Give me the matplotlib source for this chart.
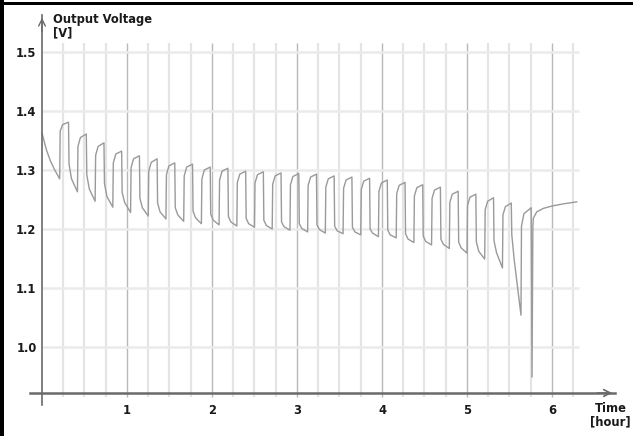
import matplotlib
matplotlib.use("Agg")
import matplotlib.pyplot as plt
import numpy as np
from matplotlib.patches import Rectangle

# ---- data (time in hours, voltage in V) ----
# initial discharge before the first rest
t_start = [0.0, 0.05, 0.10, 0.15]
v_start = [1.363, 1.335, 1.315, 1.300]

# start of each rest phase / start of each load phase
t_rest = [0.208, 0.417, 0.625, 0.833, 1.042, 1.250, 1.458, 1.667, 1.875,
          2.083, 2.292, 2.500, 2.708, 2.917, 3.125, 3.333, 3.542, 3.750,
          3.958, 4.167, 4.375, 4.583, 4.792, 5.000, 5.208, 5.417, 5.635]
t_load = [0.312, 0.521, 0.729, 0.937, 1.146, 1.354, 1.562, 1.771, 1.979,
          2.187, 2.396, 2.604, 2.812, 3.021, 3.229, 3.437, 3.646, 3.854,
          4.062, 4.271, 4.479, 4.687, 4.896, 5.104, 5.312, 5.521, 5.755]

# rest phase: top of the rise, shoulder, end-of-rest peak
v_rise = [1.366, 1.340, 1.325, 1.312, 1.304, 1.298, 1.292, 1.290, 1.285,
          1.283, 1.279, 1.278, 1.276, 1.275, 1.274, 1.271, 1.269, 1.267,
          1.264, 1.260, 1.256, 1.252, 1.245, 1.240, 1.233, 1.224, 1.205]
v_cap = [1.377, 1.355, 1.340, 1.327, 1.319, 1.313, 1.307, 1.305, 1.300,
         1.298, 1.293, 1.292, 1.290, 1.289, 1.288, 1.285, 1.283, 1.281,
         1.278, 1.274, 1.270, 1.266, 1.259, 1.254, 1.247, 1.238, 1.226]
v_peak = [1.381, 1.361, 1.346, 1.332, 1.324, 1.319, 1.312, 1.310, 1.305,
          1.303, 1.298, 1.297, 1.295, 1.294, 1.293, 1.290, 1.288, 1.286,
          1.283, 1.279, 1.275, 1.271, 1.264, 1.259, 1.253, 1.244, 1.236]

# load phase: bottom of the drop, knee, end-of-load minimum
v_drop = [1.310, 1.292, 1.277, 1.262, 1.252, 1.244, 1.236, 1.230, 1.225,
          1.221, 1.218, 1.215, 1.212, 1.209, 1.207, 1.205, 1.203, 1.200,
          1.198, 1.192, 1.188, 1.183, 1.178, 1.178, 1.180, 1.190]
v_knee = [1.285, 1.268, 1.255, 1.245, 1.236, 1.229, 1.224, 1.219, 1.215,
          1.212, 1.209, 1.206, 1.204, 1.201, 1.199, 1.197, 1.195, 1.193,
          1.190, 1.183, 1.179, 1.174, 1.168, 1.162, 1.160, 1.147]
v_end = [1.263, 1.247, 1.237, 1.228, 1.222, 1.217, 1.213, 1.209, 1.207,
         1.205, 1.203, 1.200, 1.198, 1.195, 1.193, 1.192, 1.190, 1.187,
         1.185, 1.177, 1.173, 1.167, 1.159, 1.149, 1.134, 1.054]

# cut-off dip and recovery after the last pulse
t_tail = [5.765, 5.775, 5.78, 5.82, 5.90, 6.00, 6.15, 6.29]
v_tail = [0.949, 1.205, 1.218, 1.229, 1.235, 1.239, 1.243, 1.246]

x_ticks = [1, 2, 3, 4, 5, 6]
y_ticks = [1.0, 1.1, 1.2, 1.3, 1.4, 1.5]

# ---- build the trace ----
EDGE = 0.006
CAP_DT = 0.035
KNEE_DT = 0.035

t = list(t_start)
v = list(v_start)
for k in range(len(t_rest)):
    if k == 0:
        t.append(t_rest[0])
        v.append(1.285)
    t += [t_rest[k] + EDGE, t_rest[k] + CAP_DT, t_load[k]]
    v += [v_rise[k], v_cap[k], v_peak[k]]
    if k < len(v_end):
        t += [t_load[k] + EDGE, t_load[k] + KNEE_DT, t_rest[k + 1]]
        v += [v_drop[k], v_knee[k], v_end[k]]
t += t_tail
v += v_tail

# ---- figure ----
W, H = 633, 436
fig = plt.figure(figsize=(W / 100, H / 100), dpi=100)
ax = fig.add_axes([30 / W, (H - 405) / H, 585 / W, 390 / H])
ax.set_xlim(-12 / 85, 573 / 85)
ax.set_ylim(1.5 - (405 - 52) / 590, 1.5 + (52 - 15) / 590)
x_axis_y = 1.5 - (393 - 52) / 590

axis_col = "#6a6a6a"
for side in ("top", "right"):
    ax.spines[side].set_visible(False)
ax.spines["left"].set_position(("data", 0))
ax.spines["bottom"].set_position(("data", x_axis_y))
ax.spines["left"].set_color(axis_col)
ax.spines["left"].set_linewidth(1.2)
ax.spines["bottom"].set_color(axis_col)
ax.spines["bottom"].set_linewidth(1.8)
ax.spines["left"].set_zorder(4)
ax.spines["bottom"].set_zorder(4)

font = dict(family="DejaVu Sans", weight="bold", size=8.3, color="#1a1a1a")
ax.set_xticks(x_ticks)
ax.set_xticklabels([str(x) for x in x_ticks], **font)
ax.set_yticks(y_ticks)
ax.set_yticklabels([f"{y:.1f}" for y in y_ticks], **font)
ax.tick_params(axis="x", length=0, pad=8)
ax.tick_params(axis="y", length=0, pad=4)

# grid
quarters = np.arange(0.25, 6.26, 0.25)
minor = [q for q in quarters if abs(q - round(q)) > 1e-6]
ax.vlines(minor, 0.915, 1.515, color="#e4e4e4", lw=1.6, zorder=1)
ax.vlines(x_ticks, 0.915, 1.515, color="#b8b8b8", lw=1.0, zorder=1)
ax.hlines(y_ticks, 0, 6.32, color="#ebebeb", lw=1.8, zorder=1)

ax.plot(t, v, color="#9a9a9a", lw=1.0, zorder=3)

# arrow heads
ax.annotate("", xy=(573 / 85, x_axis_y), xytext=(6.5, x_axis_y),
            arrowprops=dict(arrowstyle="->", color=axis_col, lw=1.2,
                            mutation_scale=12), zorder=5)
ax.annotate("", xy=(0, 1.5 + (52 - 15) / 590), xytext=(0, 1.53),
            arrowprops=dict(arrowstyle="->", color=axis_col, lw=1.0,
                            mutation_scale=12), zorder=5)

fig.text(53 / W, 1 - 13 / H, "Output Voltage\n[V]", ha="left", va="top",
         linespacing=1.05, **font)
fig.text(631 / W, 1 - 402 / H, "Time\n[hour]", ha="right", va="top",
         linespacing=1.05, multialignment="center", **font)

# black frame on the left and top edges
fig.add_artist(Rectangle((0, 0), 4 / W, 1, transform=fig.transFigure,
                         color="black", lw=0))
fig.add_artist(Rectangle((0, 1 - 5 / H), 1, 3 / H, transform=fig.transFigure,
                         color="black", lw=0))

fig.savefig("out.png", dpi=100)
